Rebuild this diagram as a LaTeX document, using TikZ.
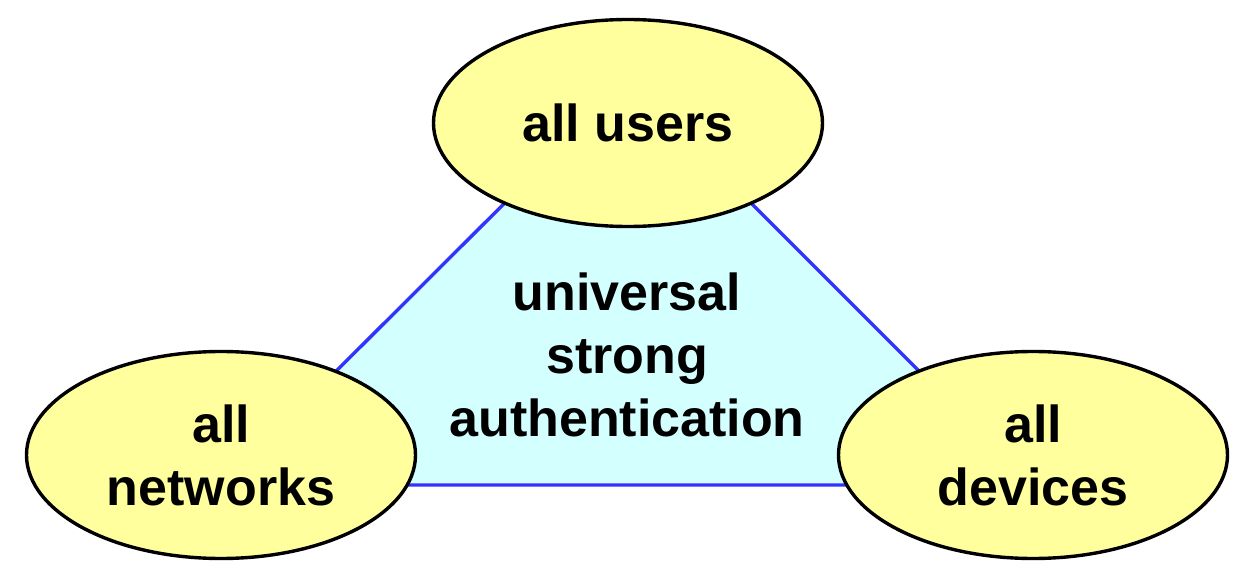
\documentclass[tikz,border=0pt]{standalone}
\usepackage{fontspec}
\setmainfont{Liberation Sans}
\usetikzlibrary{shapes.geometric}
\definecolor{ellfill}{HTML}{FFFF9E}
\definecolor{trifill}{HTML}{D4FFFF}
\definecolor{triline}{HTML}{3333FF}
\tikzset{
  bubble/.style={ellipse, draw=black, line width=3.4pt, fill=ellfill,
    minimum width=389pt, minimum height=207pt, inner sep=0pt,
    align=center, font=\fontsize{52}{63}\selectfont\bfseries},
  centertext/.style={align=center, inner sep=0pt,
    font=\fontsize{52}{63}\selectfont\bfseries},
  triedge/.style={draw=triline, line width=3.4pt, fill=trifill, line join=miter}
}
\begin{document}
\begin{tikzpicture}[x=1pt,y=1pt]
\useasboundingbox (0,0) rectangle (1248,574);
\coordinate (ta) at (628,494);
\coordinate (tl) at (222,89);
\coordinate (tr) at (1033,89);
\path[triedge] (ta) -- (tl) -- (tr) -- cycle;
\node[centertext] (core) at (627,219) {universal\\strong\\authentication};
\node[bubble] (users) at (628,451) {all users};
\node[bubble] (networks) at (221,119) {all\\networks};
\node[bubble] (devices) at (1033,119) {all\\devices};
\end{tikzpicture}
\end{document}
